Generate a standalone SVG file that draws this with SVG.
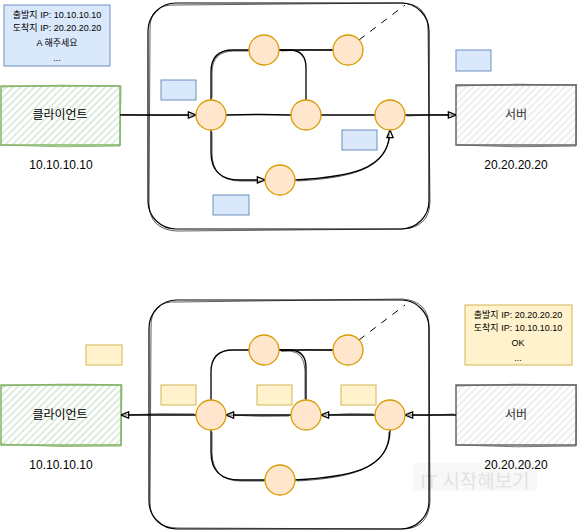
<svg xmlns="http://www.w3.org/2000/svg" width="577" height="531" viewBox="0 0 577 531">
<style>
text{font-family:"Liberation Sans","Noto Sans CJK KR",sans-serif;text-anchor:middle}
.info{font-size:9px;fill:#000}
.lbl{font-size:12px;fill:#000}
.ip{font-size:12px;fill:#000}
.srv{font-size:12px;fill:#333}
.frame{fill:none;stroke:#000;stroke-width:1.2}
.node{fill:#ffe6cc;stroke:#d79b00;stroke-width:1.3}
.pkt-b{fill:#dae8fc;stroke:#6c8ebf;stroke-width:1}
.pkt-y{fill:#fff2cc;stroke:#d6b656;stroke-width:1}
.edge{fill:none;stroke:#000;stroke-width:1.3}
.edge2{fill:none;stroke:#000;stroke-width:0.8;opacity:0.8}
.dash{fill:none;stroke:#000;stroke-width:1;stroke-dasharray:7,7}
.cli{fill:url(#hg);stroke:#82b366;stroke-width:1.5}
.svr{fill:url(#hgr);stroke:#666;stroke-width:1.5}
</style>
<defs>
<pattern id="hg" width="5" height="5" patternUnits="userSpaceOnUse" patternTransform="rotate(45)">
<rect width="5" height="5" fill="#fff"/>
<line x1="1" y1="0" x2="1" y2="5" stroke="#d5e8d4" stroke-width="1.6"/>
</pattern>
<pattern id="hgr" width="5" height="5" patternUnits="userSpaceOnUse" patternTransform="rotate(45)">
<rect width="5" height="5" fill="#fff"/>
<line x1="1" y1="0" x2="1" y2="5" stroke="#ececec" stroke-width="1.6"/>
</pattern>
<marker id="arr" viewBox="0 0 10 10" refX="9.5" refY="5" markerWidth="9" markerHeight="9" markerUnits="userSpaceOnUse" orient="auto">
<path d="M1,1.5 L9.5,5 L1,8.5 Z" fill="#fff" stroke="#000" stroke-width="1.4"/>
</marker>
</defs>

<!-- watermark -->
<g id="watermark">
<rect x="413" y="463" width="124" height="28" fill="#f8f8f8"/>
<text x="475" y="488" style="font-size:19px;fill:#e2e2e2">IT 시작해보기</text>
</g>

<!-- ===== TOP ===== -->
<g id="network-top">
<rect class="frame" x="148" y="3" width="281" height="226" rx="28"/>
<path class="edge2" d="M150,30 Q149,4 176,5 L402,3 Q428,4 428,30 L430,202 Q429,228 402,229 L176,231 Q149,229 149,203 Z"/>
</g>

<g id="info-top">
<rect x="4" y="5" width="106" height="61" fill="#dae8fc" stroke="#6c8ebf" stroke-width="1"/>
<text class="info" x="57" y="18">출발지 IP: 10.10.10.10</text>
<text class="info" x="57" y="31">도착지 IP: 20.20.20.20</text>
<text class="info" x="57" y="46">A 해주세요</text>
<text class="info" x="57" y="61">...</text>
</g>

<g id="client-top">
<rect class="cli" x="1" y="86" width="119" height="59"/>
<path d="M1,87 Q60,84 121,86 L120,146 Q60,148 0,145" fill="none" stroke="#82b366" stroke-width="0.9"/>
<text class="lbl" x="60" y="119">클라이언트</text>
<text class="ip" x="61" y="169">10.10.10.10</text>
</g>

<g id="server-top">
<rect class="svr" x="456" y="85" width="120" height="60"/>
<path d="M456,86 Q516,83 577,85 L576,146 Q516,148 457,145" fill="none" stroke="#666" stroke-width="0.9"/>
<text class="srv" x="516" y="119">서버</text>
<text class="ip" x="516" y="169">20.20.20.20</text>
</g>

<g id="packets-top">
<rect class="pkt-b" x="161" y="80" width="35" height="20"/>
<rect class="pkt-b" x="342" y="130" width="35" height="20"/>
<rect class="pkt-b" x="213" y="195" width="36" height="20"/>
<rect class="pkt-b" x="456" y="50" width="35" height="21"/>
</g>

<g id="connectors-top">
<path class="edge" d="M120,115 L196,115" marker-end="url(#arr)"/>
<path class="edge2" d="M122,114.5 Q160,116 194,115"/>
<path class="edge" d="M226,115 Q260,114 291,115"/>
<path class="edge" d="M321,115 L375,115"/>
<path class="edge" d="M405,115 L456,115" marker-end="url(#arr)"/>
<path class="edge2" d="M407,116 Q430,114 454,115"/>
<path class="edge" d="M211,100 V72 Q211,50 233,50 H249"/>
<path class="edge2" d="M212,98 V73 Q212,51 234,51 H248"/>
<path class="edge" d="M279,50 H333"/>
<path class="edge2" d="M281,51 Q305,49 332,50"/>
<path class="edge" d="M279,50 H289 Q306,50 306,68 V100"/>
<path class="edge" d="M211,130 V152 Q211,180 240,180 H265" marker-end="url(#arr)"/>
<path class="edge2" d="M212,132 V153 Q212,181 241,181 H262"/>
<path class="edge" d="M295,180 C345,177 390,172 390,130" marker-end="url(#arr)"/>
<path class="edge2" d="M297,181 C346,178 389,171 389,134"/>
<path class="dash" d="M359,40 L405,5"/>
</g>

<g id="nodes-top">
<circle id="t-a" class="node" cx="211" cy="115" r="15"/>
<circle id="t-b" class="node" cx="264" cy="50" r="15"/>
<circle id="t-c" class="node" cx="348" cy="50" r="15"/>
<circle id="t-d" class="node" cx="306" cy="115" r="15"/>
<circle id="t-e" class="node" cx="390" cy="115" r="15"/>
<circle id="t-f" class="node" cx="280" cy="180" r="15"/>
</g>

<!-- ===== BOTTOM ===== -->
<g id="network-bottom">
<rect class="frame" x="149" y="300" width="280" height="229" rx="28"/>
<path class="edge2" d="M151,328 Q150,300 178,302 L402,299 Q429,301 429,327 L430,502 Q428,529 402,529 L178,528 Q150,528 150,502 Z"/>
</g>

<g id="info-bottom">
<rect x="465" y="305" width="107" height="60" fill="#fff2cc" stroke="#d6b656" stroke-width="1"/>
<text class="info" x="518" y="318">출발지 IP: 20.20.20.20</text>
<text class="info" x="518" y="331">도착지 IP: 10.10.10.10</text>
<text class="info" x="518" y="346">OK</text>
<text class="info" x="518" y="361">...</text>
</g>

<g id="client-bottom">
<rect class="cli" x="1" y="385" width="120" height="60"/>
<path d="M1,386 Q60,383 122,385 L121,446 Q60,448 0,444" fill="none" stroke="#82b366" stroke-width="0.9"/>
<text class="lbl" x="60" y="419">클라이언트</text>
<text class="ip" x="61" y="469">10.10.10.10</text>
</g>

<g id="server-bottom">
<rect class="svr" x="456" y="385" width="120" height="60"/>
<path d="M456,386 Q516,383 577,385 L576,446 Q516,448 457,445" fill="none" stroke="#666" stroke-width="0.9"/>
<text class="srv" x="516" y="419">서버</text>
<text class="ip" x="516" y="469">20.20.20.20</text>
</g>

<g id="packets-bottom">
<rect class="pkt-y" x="86" y="345" width="36" height="20"/>
<rect class="pkt-y" x="161" y="385" width="35" height="20"/>
<rect class="pkt-y" x="257" y="385" width="35" height="20"/>
<rect class="pkt-y" x="341" y="385" width="35" height="20"/>
</g>

<g id="connectors-bottom">
<path class="edge" d="M456,415 L405,415" marker-end="url(#arr)"/>
<path class="edge2" d="M454,414 Q430,416 408,415"/>
<path class="edge" d="M375,415 L321,415" marker-end="url(#arr)"/>
<path class="edge2" d="M373,414 Q350,413 324,415"/>
<path class="edge" d="M291,415 L226,415" marker-end="url(#arr)"/>
<path class="edge2" d="M289,416 Q260,417 229,415"/>
<path class="edge" d="M196,415 L121,415" marker-end="url(#arr)"/>
<path class="edge2" d="M194,414 Q160,413 124,415"/>
<path class="edge" d="M211,400 V372 Q211,350 233,350 H249"/>
<path class="edge" d="M279,350 H333"/>
<path class="edge2" d="M281,351 Q305,349 332,350"/>
<path class="edge" d="M279,350 H289 Q306,350 306,368 V400"/>
<path class="edge2" d="M281,351 H290 Q304,352 305,370 V399"/>
<path class="edge" d="M211,430 V452 Q211,480 240,480 H265"/>
<path class="edge2" d="M212,432 V453 Q213,481 241,481 H264"/>
<path class="edge" d="M295,480 C345,477 390,472 390,430"/>
<path class="edge2" d="M297,481 C346,478 389,471 389,432"/>
<path class="dash" d="M359,340 L405,305"/>
</g>

<g id="nodes-bottom">
<circle id="b-a" class="node" cx="211" cy="415" r="15"/>
<circle id="b-b" class="node" cx="264" cy="350" r="15"/>
<circle id="b-c" class="node" cx="348" cy="350" r="15"/>
<circle id="b-d" class="node" cx="306" cy="415" r="15"/>
<circle id="b-e" class="node" cx="390" cy="415" r="15"/>
<circle id="b-f" class="node" cx="280" cy="480" r="15"/>
</g>
</svg>
